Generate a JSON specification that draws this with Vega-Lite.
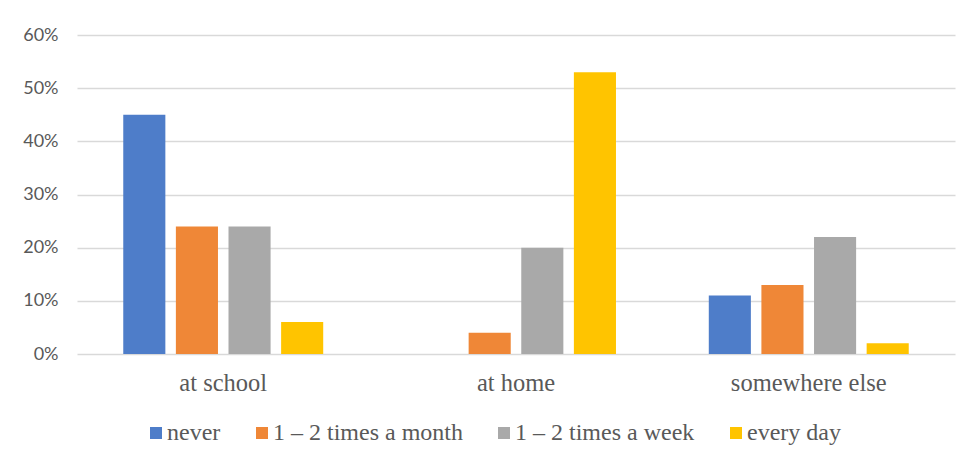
{
  "$schema": "https://vega.github.io/schema/vega-lite/v6.json",
  "width": 878,
  "height": 319,
  "autosize": "none",
  "padding": {"left": 77, "top": 35, "right": 6, "bottom": 111},
  "background": "white",
  "data": {
    "values": [
      {"place": "at school", "freq": "never", "share": 0.45},
      {"place": "at school", "freq": "1 – 2 times a month", "share": 0.24},
      {"place": "at school", "freq": "1 – 2 times a week", "share": 0.24},
      {"place": "at school", "freq": "every day", "share": 0.06},
      {"place": "at home", "freq": "never", "share": 0.0},
      {"place": "at home", "freq": "1 – 2 times a month", "share": 0.04},
      {"place": "at home", "freq": "1 – 2 times a week", "share": 0.20},
      {"place": "at home", "freq": "every day", "share": 0.53},
      {"place": "somewhere else", "freq": "never", "share": 0.11},
      {"place": "somewhere else", "freq": "1 – 2 times a month", "share": 0.13},
      {"place": "somewhere else", "freq": "1 – 2 times a week", "share": 0.22},
      {"place": "somewhere else", "freq": "every day", "share": 0.02}
    ]
  },
  "mark": {"type": "bar"},
  "encoding": {
    "x": {
      "field": "place",
      "type": "nominal",
      "sort": ["at school", "at home", "somewhere else"],
      "scale": {"paddingInner": 0.317, "paddingOuter": 0.158},
      "axis": {
        "title": null,
        "labelAngle": 0,
        "domain": false,
        "ticks": false,
        "labelPadding": 17,
        "labelFont": "Liberation Serif",
        "labelFontSize": 24.5,
        "labelColor": "#595959"
      }
    },
    "xOffset": {
      "field": "freq",
      "type": "nominal",
      "sort": ["never", "1 – 2 times a month", "1 – 2 times a week", "every day"],
      "scale": {"paddingInner": 0.2, "paddingOuter": 0}
    },
    "y": {
      "field": "share",
      "type": "quantitative",
      "scale": {"domain": [0, 0.6], "nice": false},
      "axis": {
        "title": null,
        "values": [0, 0.1, 0.2, 0.3, 0.4, 0.5, 0.6],
        "format": ".0%",
        "domain": false,
        "ticks": false,
        "labelPadding": 19,
        "labelFont": "Lato",
        "labelFontSize": 18,
        "labelColor": "#595959",
        "gridColor": "#d9d9d9",
        "gridWidth": 1.5
      }
    },
    "color": {
      "field": "freq",
      "type": "nominal",
      "sort": ["never", "1 – 2 times a month", "1 – 2 times a week", "every day"],
      "scale": {
        "domain": ["never", "1 – 2 times a month", "1 – 2 times a week", "every day"],
        "range": ["#4e7dc9", "#ef8737", "#a9a9a9", "#ffc400"]
      },
      "legend": {
        "title": null,
        "orient": "none",
        "direction": "horizontal",
        "legendX": 67,
        "legendY": 386,
        "symbolType": "square",
        "symbolSize": 144,
        "symbolStrokeWidth": 0,
        "symbolOpacity": 1,
        "labelOffset": -1,
        "columnPadding": 29,
        "labelFont": "Liberation Serif",
        "labelFontSize": 24,
        "labelColor": "#595959",
        "labelLimit": 400
      }
    }
  },
  "config": {
    "view": {"stroke": null}
  }
}
